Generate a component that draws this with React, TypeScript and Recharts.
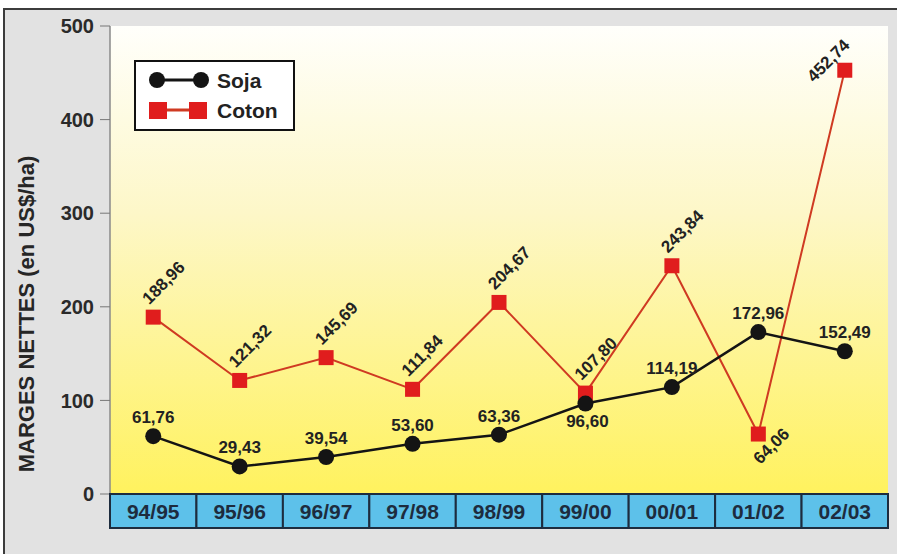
import React from 'react';
import {
  LineChart,
  Line,
  XAxis,
  YAxis,
  CartesianGrid,
  Legend,
  LabelList,
} from 'recharts';

// Campaign years and net margins (US$/ha)
const campagnes = ['94/95', '95/96', '96/97', '97/98', '98/99', '99/00', '00/01', '01/02', '02/03'];
const soja = [61.76, 29.43, 39.54, 53.6, 63.36, 96.6, 114.19, 172.96, 152.49];
const coton = [188.96, 121.32, 145.69, 111.84, 204.67, 107.8, 243.84, 64.06, 452.74];
const yTicks = [0, 100, 200, 300, 400, 500];

const data = campagnes.map((c, i) => ({ campagne: c, soja: soja[i], coton: coton[i] }));

const FONT = '"Liberation Sans", Arial, sans-serif';
const W = 897;
const H = 554;
const MARGIN = { top: 26, right: 9, bottom: 26, left: 50 };
const PLOT_W = W - MARGIN.left - MARGIN.right - 60;
const BAND = PLOT_W / campagnes.length;

const COLORS = {
  soja: '#141414',
  cotonLine: '#cf3a22',
  cotonMark: '#e01d1d',
  box: '#5dc1ea',
  boxBorder: '#1d2c3e',
  text: '#222222',
};

const fmt = (v: number) => v.toFixed(2).replace('.', ',');

// Blue category boxes under the plot
const CategoryTick = (props: any) => {
  const { x, y, payload } = props;
  return (
    <g>
      <rect
        x={x - BAND / 2}
        y={y}
        width={BAND}
        height={34}
        fill={COLORS.box}
        stroke={COLORS.boxBorder}
        strokeWidth={2}
      />
      <text
        x={x}
        y={y + 25}
        textAnchor="middle"
        fontFamily={FONT}
        fontWeight="bold"
        fontSize={21}
        fill={COLORS.boxBorder}
      >
        {payload.value}
      </text>
    </g>
  );
};

const SquareDot = (props: any) => {
  const { cx, cy, index } = props;
  if (cx == null || cy == null) return null;
  return (
    <rect
      key={`sq-${index}`}
      x={cx - 7.5}
      y={cy - 7.5}
      width={15}
      height={15}
      fill={COLORS.cotonMark}
    />
  );
};

const SojaLabel = (props: any) => {
  const { x, y, value, index } = props;
  const below = index === 5;
  return (
    <text
      x={below ? x + 2 : x}
      y={below ? y + 23 : y - 13}
      textAnchor="middle"
      fontFamily={FONT}
      fontWeight="bold"
      fontSize={17}
      fill={COLORS.text}
    >
      {fmt(value)}
    </text>
  );
};

const CotonLabel = (props: any) => {
  const { x, y, value, index } = props;
  let tx = x - 4;
  let ty = y - 12;
  let anchor = 'start';
  if (index === 7) {
    tx = x + 2;
    ty = y + 31;
  } else if (index === 8) {
    tx = x + 6;
    ty = y - 24;
    anchor = 'end';
  }
  return (
    <text
      x={tx}
      y={ty}
      transform={`rotate(-45 ${tx} ${ty})`}
      textAnchor={anchor}
      fontFamily={FONT}
      fontWeight="bold"
      fontSize={17}
      fill={COLORS.text}
    >
      {fmt(value)}
    </text>
  );
};

const LegendBox = () => (
  <div
    style={{
      width: 157,
      height: 67,
      border: '2px solid #111',
      background: '#fff',
    }}
  >
    <svg width={157} height={67}>
      <line x1={21} y1={18} x2={65} y2={18} stroke={COLORS.soja} strokeWidth={3} />
      <circle cx={21} cy={18} r={8} fill={COLORS.soja} />
      <circle cx={65} cy={18} r={8} fill={COLORS.soja} />
      <text x={81} y={26} fontFamily={FONT} fontWeight="bold" fontSize={21} fill={COLORS.text}>
        Soja
      </text>
      <line x1={22} y1={48} x2={64} y2={48} stroke={COLORS.cotonLine} strokeWidth={3} />
      <rect x={13} y={40} width={18} height={17} fill={COLORS.cotonMark} />
      <rect x={53} y={40} width={18} height={17} fill={COLORS.cotonMark} />
      <text x={81} y={56} fontFamily={FONT} fontWeight="bold" fontSize={21} fill={COLORS.text}>
        Coton
      </text>
    </svg>
  </div>
);

const YLabel = () => (
  <text
    x={34}
    y={314}
    transform="rotate(-90 34 314)"
    textAnchor="middle"
    fontFamily={FONT}
    fontWeight="bold"
    fontSize={22}
    fill="#262626"
  >
    MARGES NETTES (en US$/ha)
  </text>
);

export default function App() {
  return (
    <div
      style={{
        position: 'absolute',
        left: 0,
        top: 0,
        width: W,
        height: H,
        background: '#fff',
        overflow: 'hidden',
      }}
    >
      <div
        style={{
          position: 'absolute',
          left: 3,
          top: 8,
          width: W + 20,
          height: H + 20,
          background: '#e2e2e2',
          borderTop: '2px solid #3c3c3c',
          borderLeft: '2px solid #3c3c3c',
        }}
      />
      <div style={{ position: 'absolute', left: 0, top: 0 }}>
        <LineChart width={W} height={H} data={data} margin={MARGIN}>
          <defs>
            <linearGradient id="plotBg" x1="0" y1="0" x2="0" y2="1">
              <stop offset="0%" stopColor="#fffffb" />
              <stop offset="40%" stopColor="#fdf7c8" />
              <stop offset="100%" stopColor="#fff25e" />
            </linearGradient>
          </defs>
          <CartesianGrid
            horizontal={false}
            vertical={false}
            fill="url(#plotBg)"
            fillOpacity={1}
          />
          <XAxis
            dataKey="campagne"
            height={34}
            axisLine={false}
            tickLine={false}
            tickSize={0}
            tickMargin={0}
            interval={0}
            padding={{ left: BAND / 2, right: BAND / 2 }}
            tick={<CategoryTick />}
          />
          <XAxis
            xAxisId="top"
            orientation="top"
            dataKey="campagne"
            height={0}
            tick={false}
            tickLine={false}
            axisLine={{ stroke: '#9a9a9a', strokeWidth: 1.5 }}
          />
          <YAxis
            width={60}
            domain={[0, 500]}
            ticks={yTicks}
            tickSize={10}
            tickMargin={6}
            axisLine={{ stroke: '#8a8a8a', strokeWidth: 1.5 }}
            tickLine={{ stroke: '#777' }}
            tick={{ fontFamily: FONT, fontWeight: 'bold', fontSize: 20, fill: '#2a2a2a' }}
            label={<YLabel />}
          />
          <YAxis
            yAxisId="right"
            orientation="right"
            width={0}
            domain={[0, 500]}
            tick={false}
            tickLine={false}
            axisLine={{ stroke: '#9a9a9a', strokeWidth: 1.5 }}
          />
          <Legend
            layout="vertical"
            align="center"
            verticalAlign="middle"
            wrapperStyle={{ top: 60, left: 134, width: 161, height: 71 }}
            content={<LegendBox />}
          />
          <Line
            type="linear"
            dataKey="coton"
            stroke={COLORS.cotonLine}
            strokeWidth={2}
            dot={SquareDot}
            activeDot={false}
            isAnimationActive={false}
          >
            <LabelList dataKey="coton" content={<CotonLabel />} />
          </Line>
          <Line
            type="linear"
            dataKey="soja"
            stroke={COLORS.soja}
            strokeWidth={2.5}
            dot={{ r: 8, fill: COLORS.soja, stroke: 'none' }}
            activeDot={false}
            isAnimationActive={false}
          >
            <LabelList dataKey="soja" content={<SojaLabel />} />
          </Line>
        </LineChart>
      </div>
    </div>
  );
}
